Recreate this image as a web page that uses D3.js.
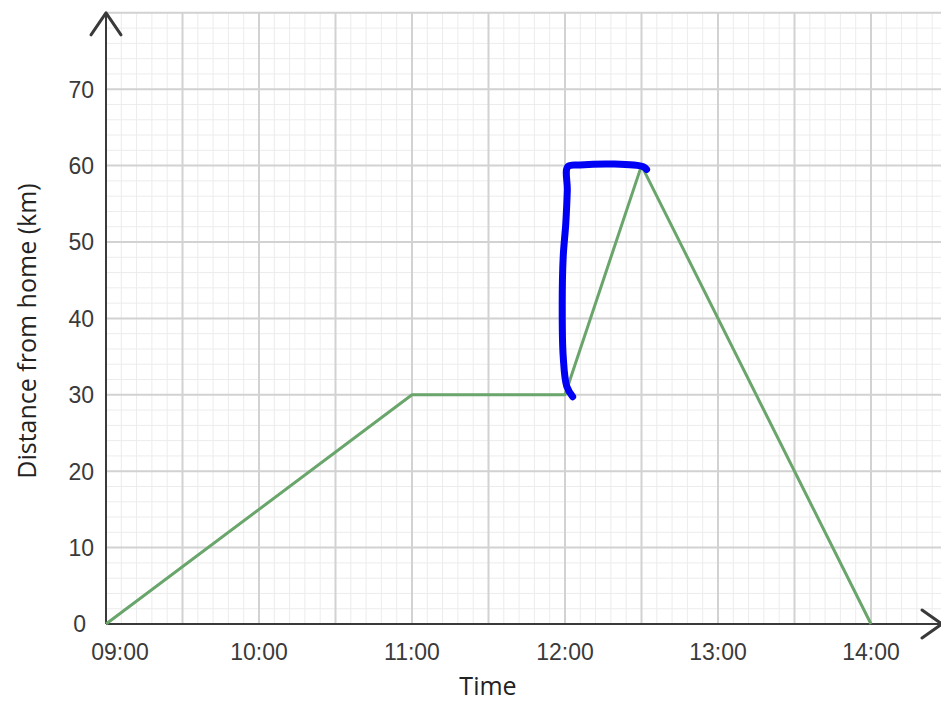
<!DOCTYPE html>
<html>
<head>
<meta charset="utf-8">
<script src="https://cdn.jsdelivr.net/npm/d3@7"></script>
<style>
  body { margin: 0; background: #fff; }
  svg { display: block; }
  .tickLabel { font-family: "Liberation Sans", Arial, sans-serif; font-size: 23px; fill: #3a3a3a; }
  .axisLabel { font-family: "Open Sans", sans-serif; font-size: 25px; fill: #222; }
</style>
</head>
<body>
<div id="graph"></div>
<script>
// journey: time of day (h, min) and distance from home (km)
var journeyTimes = [[9, 0], [11, 0], [12, 0], [12, 30], [14, 0]];
var journeyDist  = [0, 30, 30, 60, 0];

// hand-drawn blue mark
var markTimes = [[12, 3.0], [12, 0.7], [11, 59.3], [11, 58.9], [11, 59.3], [12, 0.3], [12, 0.9], [12, 1.1],
                 [12, 5.9], [12, 19.0], [12, 30.7], [12, 32.0]];
var markDist  = [29.75, 31.1, 35.0, 41.5, 48.1, 52.4, 56.8, 59.86, 60.08, 60.21, 59.86, 59.5];

var xTickLabels = ['09:00', '10:00', '11:00', '12:00', '13:00', '14:00'];
var yTickValues = [0, 10, 20, 30, 40, 50, 60, 70];

var toDate = function (hm) { return new Date(2020, 0, 1, hm[0], 0, 0, 0).getTime() + hm[1] * 60000; };

var journey = journeyTimes.map(function (hm, i) { return { t: toDate(hm), d: journeyDist[i] }; });
var mark    = markTimes.map(function (hm, i) { return { t: toDate(hm), d: markDist[i] }; });

var W = 941, H = 701;

var xScale = d3.scaleTime ()
               .domain ([toDate([9, 0]), toDate([14, 0])])
               .range ([106, 871]);

var yScale = d3.scaleLinear ()
               .domain ([0, 80])
               .range ([624, 12.8]);

var svg = d3.select ('div#graph')
            .append ('svg')
            .attr ('width', W)
            .attr ('height', H);

var xMax = toDate([14, 30]);

// minor grid: 6 minutes, 2 km; major grid: 30 minutes, 10 km
var minorX = d3.range (toDate([9, 0]), xMax + 1, 6 * 60000);
var minorY = d3.range (0, 80.01, 2);
var majorX = d3.range (toDate([9, 0]), xMax + 1, 30 * 60000);
var majorY = d3.range (0, 80.01, 10);

var grid = svg.append ('g');

var vLines = function (data, colour, w)
{
    grid.append ('g').selectAll ('line')
        .data (data).enter ().append ('line')
        .attr ('x1', d => xScale (d)).attr ('x2', d => xScale (d))
        .attr ('y1', yScale (0)).attr ('y2', yScale (80))
        .attr ('stroke', colour).attr ('stroke-width', w);
};

var hLines = function (data, colour, w)
{
    grid.append ('g').selectAll ('line')
        .data (data).enter ().append ('line')
        .attr ('y1', d => yScale (d)).attr ('y2', d => yScale (d))
        .attr ('x1', xScale (toDate([9, 0]))).attr ('x2', xScale (xMax))
        .attr ('stroke', colour).attr ('stroke-width', w);
};

vLines (minorX, '#ececec', 1);
hLines (minorY, '#ececec', 1);
vLines (majorX, '#d2d2d2', 2);
hLines (majorY, '#d2d2d2', 2);

// axes with arrow heads
var x0 = xScale (toDate([9, 0])), y0 = yScale (0);
var axisColor = '#3a3a3a';

svg.append ('line')
   .attr ('x1', x0).attr ('x2', x0)
   .attr ('y1', y0).attr ('y2', yScale (80))
   .attr ('stroke', axisColor).attr ('stroke-width', 2);

svg.append ('line')
   .attr ('x1', x0).attr ('x2', 941)
   .attr ('y1', y0).attr ('y2', y0)
   .attr ('stroke', axisColor).attr ('stroke-width', 2);

svg.append ('path')
   .attr ('d', 'M' + (x0 - 15) + ',' + (yScale (80) + 22) + 'L' + x0 + ',' + yScale (80) + 'L' + (x0 + 15) + ',' + (yScale (80) + 22))
   .attr ('fill', 'none').attr ('stroke', axisColor).attr ('stroke-width', 3)
   .attr ('stroke-linecap', 'round').attr ('stroke-linejoin', 'round');

svg.append ('path')
   .attr ('d', 'M922,' + (y0 - 14) + 'L942,' + y0 + 'L922,' + (y0 + 14))
   .attr ('fill', 'none').attr ('stroke', axisColor).attr ('stroke-width', 3)
   .attr ('stroke-linecap', 'round').attr ('stroke-linejoin', 'round');

// tick labels (origin labels are nudged off the axes)
svg.selectAll ('text.xt')
   .data (xTickLabels).enter ().append ('text')
   .attr ('class', 'tickLabel')
   .attr ('x', (d, i) => xScale (toDate([9 + i, 0])) + (i === 0 ? 14 : 0))
   .attr ('y', 660)
   .attr ('text-anchor', 'middle')
   .text (d => d);

svg.selectAll ('text.yt')
   .data (yTickValues).enter ().append ('text')
   .attr ('class', 'tickLabel')
   .attr ('x', d => d === 0 ? 86 : 94)
   .attr ('y', d => yScale (d) + (d === 0 ? 8 : 8.3))
   .attr ('text-anchor', 'end')
   .text (d => d);

// axis titles
svg.append ('text')
   .attr ('class', 'axisLabel')
   .attr ('x', 488).attr ('y', 695)
   .attr ('text-anchor', 'middle')
   .text ('Time');

svg.append ('text')
   .attr ('class', 'axisLabel')
   .attr ('transform', 'translate(36,331) rotate(-90)')
   .attr ('text-anchor', 'middle')
   .text ('Distance from home (km)');

// journey line
var line = d3.line ()
             .x (d => xScale (d.t))
             .y (d => yScale (d.d));

svg.append ('path')
   .datum (journey)
   .attr ('d', line)
   .attr ('fill', 'none')
   .attr ('stroke', '#6aa56c')
   .attr ('stroke-width', 3)
   .attr ('stroke-linejoin', 'round');

// hand-drawn mark
svg.append ('path')
   .datum (mark)
   .attr ('d', line.curve (d3.curveCatmullRom))
   .attr ('fill', 'none')
   .attr ('stroke', '#0000f5')
   .attr ('stroke-width', 7)
   .attr ('stroke-linecap', 'round')
   .attr ('stroke-linejoin', 'round');
</script>
</body>
</html>
